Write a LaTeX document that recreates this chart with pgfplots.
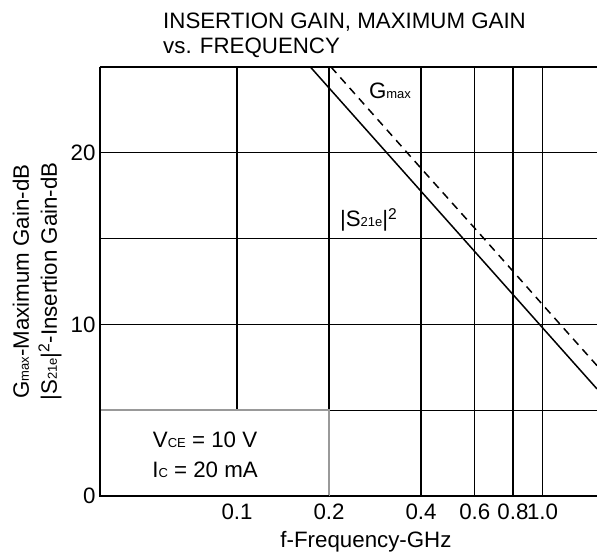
\documentclass[border=0pt]{standalone}
\usepackage{pgfplots}
\pgfplotsset{compat=1.18}
\usepackage{fontspec}
\setmainfont{Liberation Sans}
\newcommand\sub[1]{{\fontsize{13}{13}\selectfont #1}}
\begin{document}
\begin{tikzpicture}[font=\fontsize{22.3}{25}\selectfont]
\begin{axis}[
  scale only axis, width=497pt, height=429pt,
  xmode=log, log basis x=10,
  xmin=0.0356, xmax=1.507, ymin=0, ymax=25,
  xtick={0.1,0.2,0.4,0.6,0.8,1}, xticklabels={0.1,0.2,0.4,0.6,0.8,1.0},
  ytick={0,5,10,15,20,25}, yticklabels={0,,10,,20,},
  minor xtick={}, minor ytick={},
  major tick length=0pt,
  grid=major, major grid style={black, line width=1.3pt},
  axis x line=box, axis y line*=left,
  axis line style={black, line width=1.4pt},
  tick label style={font=\fontsize{22.3}{22}\selectfont},
  xticklabel style={yshift=-4pt},
  yticklabel style={xshift=-1pt},
  /pgf/number format/assume math mode=true,
  clip mode=individual,
]
\addplot[black, line width=1.5pt] coordinates {(0.1738,25) (0.2,23.78) (0.4,17.76) (0.6,14.24) (0.8,11.74) (1.0,9.8) (1.507,6.24)};
\addplot[black, line width=1.5pt, dash pattern=on 8pt off 6pt] coordinates {(0.203,25) (0.4,19.1) (0.6,15.6) (0.8,13.1) (1.0,11.15) (1.507,7.6)};
\fill[white] (axis cs:0.0356,0) rectangle (axis cs:0.2,5);
\draw[black!40, line width=1.5pt] (axis cs:0.0356,5) -- (axis cs:0.2,5) -- (axis cs:0.2,0);
\draw[black, line width=1.4pt] (axis cs:0.0356,5.05) -- (axis cs:0.0356,0) -- (axis cs:0.2,0);
\node[anchor=west, inner sep=0pt] at (axis cs:0.27,23.6) {G\sub{max}};
\node[anchor=west, inner sep=0pt] at (axis cs:0.217,16.1) {|S\sub{21e}|\textsuperscript{2}};
\node[inner sep=0pt] at (axis cs:0.0786,3.27) {V\sub{CE} = 10 V};
\node[inner sep=0pt] at (axis cs:0.0786,1.52) {I\sub{C} = 20 mA};
\end{axis}
\node[anchor=base west, inner sep=0pt] at ([shift={(63pt,38pt)}]current axis.north west) {INSERTION GAIN, MAXIMUM GAIN};
\node[anchor=base west, inner sep=0pt] at ([shift={(63pt,13pt)}]current axis.north west) {vs. FREQUENCY};
\node[rotate=90, inner sep=0pt] at ([xshift=-79pt]current axis.west) {G\sub{max}-Maximum Gain-dB};
\node[rotate=90, inner sep=0pt] at ([xshift=-50pt]current axis.west) {|S\sub{21e}|\textsuperscript{2}-Insertion Gain-dB};
\node[anchor=base, inner sep=0pt] at ([shift={(266pt,-51pt)}]current axis.south west) {f-Frequency-GHz};
\pgfresetboundingbox
\path[use as bounding box] ([shift={(-100pt,-58pt)}]current axis.south west) rectangle ([yshift=67pt]current axis.north east);
\end{tikzpicture}
\end{document}
